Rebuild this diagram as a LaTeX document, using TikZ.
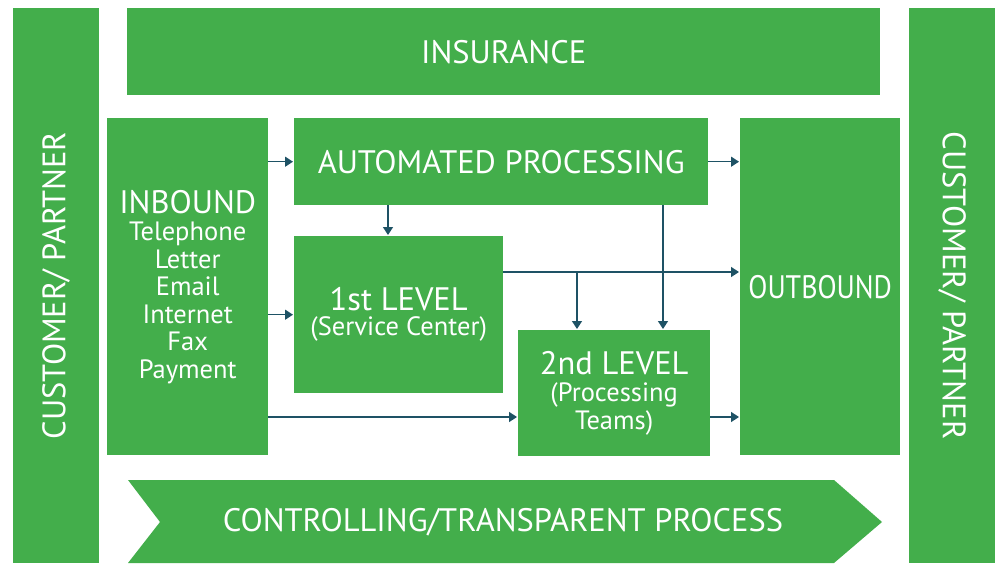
\documentclass[tikz,border=0pt]{standalone}
\usepackage{fontspec}
\setmainfont{PT Sans}
\usetikzlibrary{arrows.meta}
\definecolor{boxgreen}{HTML}{43AE4B}
\definecolor{flowteal}{HTML}{1E5265}
\newcommand\mainsize{\fontsize{32.5}{27.5}\selectfont}
\newcommand\subsize{\fontsize{26.5}{27.5}\selectfont}
\tikzset{
  block/.style={fill=boxgreen, text=white, anchor=north west, inner sep=0pt,
    align=center, font=\mainsize},
  flow/.style={draw=flowteal, line width=1.4pt, shorten >=1pt,
    -{Triangle[width=10pt,length=8pt]}}
}
\begin{document}
\begin{tikzpicture}[x=1pt,y=-1pt]
  \useasboundingbox (0,0) rectangle (1001,563);
  % side bars
  \node[block, minimum width=86pt, minimum height=555pt] (custL) at (13,8) {};
  \node[block, minimum width=86pt, minimum height=555pt] (custR) at (909,8) {};
  \node[text=white, rotate=90, font=\mainsize] (custLtext) at (custL) {CUSTOMER/ PARTNER};
  \node[text=white, rotate=-90, font=\mainsize] (custRtext) at (custR) {CUSTOMER/ PARTNER};
  % top and bottom
  \node[block, minimum width=753pt, minimum height=87pt] (insurance) at (127,8) {INSURANCE};
  \fill[boxgreen] (128,480) -- (834,480) -- (882,522) -- (834,563)
                  -- (128,563) -- (160,522) -- cycle;
  \node[text=white, font=\mainsize] (controlling) at (503,522) {CONTROLLING/TRANSPARENT PROCESS};
  % boxes
  \node[block, font=\subsize, minimum width=161pt, minimum height=337pt] (inbound) at (107,118)
    {{\mainsize INBOUND}\\Telephone\\Letter\\Email\\Internet\\Fax\\Payment};
  \node[block, minimum width=414pt, minimum height=87pt] (auto) at (294,118) {AUTOMATED PROCESSING};
  \node[block, font=\subsize, minimum width=209pt, minimum height=157pt] (first) at (294,236)
    {{\mainsize 1st LEVEL}\\[-2.5pt](Service Center)};
  \node[block, font=\subsize, minimum width=192pt, minimum height=126pt] (second) at (518,330)
    {{\mainsize 2nd LEVEL}\\(Processing\\Teams)};
  \node[block, text width=160pt, minimum height=337pt] (outbound) at (740,118)
    {\scalebox{0.86}[1]{OUTBOUND}};
  % connectors
  \coordinate (split) at (577,272);
  \draw[flow] (inbound.east |- auto.west) -- (auto.west);
  \draw[flow] (auto.east) -- (auto.east -| outbound.west);
  \draw[flow] (auto.south -| 388,0) -- (first.north -| 388,0);
  \draw[flow] (auto.south -| 663,0) -- (second.north -| 663,0);
  \draw[flow] (first.east |- split) -- (outbound.west |- split);
  \draw[flow] (split) -- (second.north -| split);
  \draw[flow] (inbound.east |- first.west) -- (first.west);
  \draw[flow] (inbound.east |- 0,417) -- (second.west |- 0,417);
  \draw[flow] (second.east |- 0,417) -- (outbound.west |- 0,417);
\end{tikzpicture}
\end{document}
